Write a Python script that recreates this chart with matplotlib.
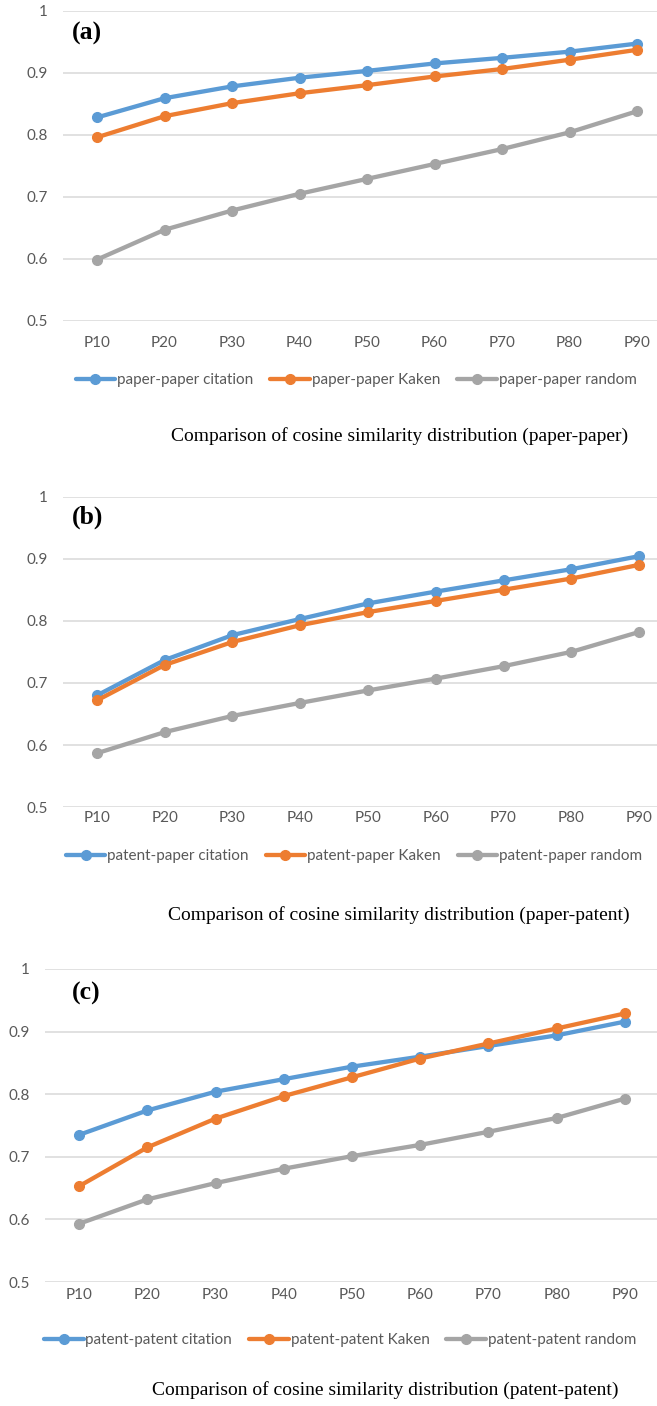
import numpy as np
import matplotlib
matplotlib.use('Agg')
import matplotlib.pyplot as plt

# percentile categories shared by all three panels
percentiles = ['P10', 'P20', 'P30', 'P40', 'P50', 'P60', 'P70', 'P80', 'P90']
y_ticks = [0.5, 0.6, 0.7, 0.8, 0.9, 1.0]
y_tick_labels = ['0.5', '0.6', '0.7', '0.8', '0.9', '1']

# (a) paper-paper
pp_citation = [0.828, 0.859, 0.878, 0.892, 0.903, 0.915, 0.924, 0.934, 0.947]
pp_kaken = [0.796, 0.830, 0.851, 0.867, 0.880, 0.894, 0.906, 0.921, 0.937]
pp_random = [0.599, 0.647, 0.678, 0.705, 0.729, 0.753, 0.777, 0.804, 0.838]

# (b) patent-paper
tp_citation = [0.680, 0.737, 0.777, 0.803, 0.828, 0.847, 0.865, 0.883, 0.904]
tp_kaken = [0.672, 0.729, 0.766, 0.793, 0.814, 0.832, 0.850, 0.868, 0.890]
tp_random = [0.587, 0.621, 0.647, 0.668, 0.688, 0.707, 0.727, 0.750, 0.782]

# (c) patent-patent
tt_citation = [0.735, 0.774, 0.804, 0.824, 0.844, 0.860, 0.877, 0.894, 0.916]
tt_kaken = [0.653, 0.715, 0.761, 0.797, 0.827, 0.857, 0.881, 0.905, 0.929]
tt_random = [0.593, 0.632, 0.658, 0.681, 0.701, 0.719, 0.740, 0.762, 0.793]

panel_tags = ['(a)', '(b)', '(c)']
legend_names = [
    ['paper-paper citation', 'paper-paper Kaken', 'paper-paper random'],
    ['patent-paper citation', 'patent-paper Kaken', 'patent-paper random'],
    ['patent-patent citation', 'patent-patent Kaken', 'patent-patent random'],
]
captions = [
    'Comparison of cosine similarity distribution (paper-paper)',
    'Comparison of cosine similarity distribution (paper-patent)',
    'Comparison of cosine similarity distribution (patent-patent)',
]
series = [
    [pp_citation, pp_kaken, pp_random],
    [tp_citation, tp_kaken, tp_random],
    [tt_citation, tt_kaken, tt_random],
]

colors = ['#5B9BD5', '#ED7D31', '#A5A5A5']
tick_color = '#595959'
grid_color = '#D9D9D9'

W, H = 657, 1406
fig = plt.figure(figsize=(W / 100, H / 100), dpi=100)

def px_box(left, right, top, bottom):
    #convert pixel extents into a figure-fraction rectangle
    return [left / W, 1 - bottom / H, (right - left) / W, (bottom - top) / H]

# per panel layout: axes extents, xtick pad, legend/caption/tag positions (pixels)
layout = [
    dict(box=(63.3, 670.8, 10.7, 321.0), xpad=11, leg=(356, 380), cap=(400, 436), tag=(72, 33)),
    dict(box=(63.1, 672.9, 496.5, 807.3), xpad=3, leg=(354, 856), cap=(399, 915), tag=(72, 517)),
    dict(box=(44.9, 659.1, 969.0, 1282.0), xpad=4, leg=(340, 1340), cap=(385, 1390), tag=(72, 993)),
]

x = np.arange(len(percentiles))

for i, lay in enumerate(layout):
    ax = fig.add_axes(px_box(*lay['box']))
    for vals, c, name in zip(series[i], colors, legend_names[i]):
        ax.plot(x, vals, color=c, lw=3.1, marker='o', ms=7,
                solid_capstyle='round', label=name, zorder=3)

    ax.set_xlim(-0.5, len(percentiles) - 0.5)
    ax.set_ylim(0.5, 1.0)
    ax.set_xticks(x)
    ax.set_xticklabels(percentiles)
    ax.set_yticks(y_ticks)
    ax.set_yticklabels(y_tick_labels)
    ax.tick_params(axis='both', length=0, labelsize=11, labelcolor=tick_color)
    ax.tick_params(axis='y', pad=11)
    ax.tick_params(axis='x', pad=lay['xpad'])
    for lbl in ax.get_xticklabels() + ax.get_yticklabels():
        lbl.set_fontfamily('Lato')
    ax.grid(axis='y', color=grid_color, lw=1.1)
    ax.set_axisbelow(True)
    for s in ax.spines.values():
        s.set_visible(False)

    lx, ly = lay['leg']
    ax.legend(loc='center', bbox_to_anchor=(lx / W, 1 - ly / H),
              bbox_transform=fig.transFigure, ncol=3, frameon=False,
              prop={'family': 'Lato', 'size': 11}, labelcolor=tick_color,
              handlelength=2.6, handletextpad=0.12, columnspacing=1.1,
              borderpad=0, borderaxespad=0)

    tx, ty = lay['tag']
    fig.text(tx / W, 1 - ty / H, panel_tags[i], family='Liberation Serif',
             weight='bold', size=18.5, ha='left', va='center')

    cx, cy = lay['cap']
    fig.text(cx / W, 1 - cy / H, captions[i], family='Liberation Serif',
             size=14, ha='center', va='center')

fig.savefig('out.png', dpi=100)
